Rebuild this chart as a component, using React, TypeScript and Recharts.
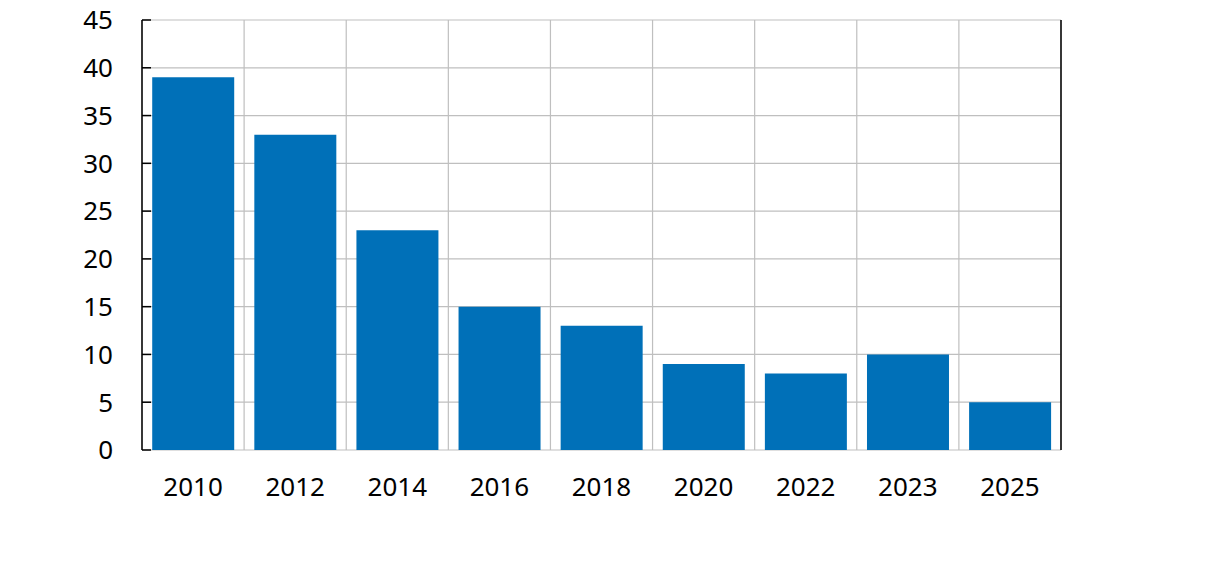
import { BarChart, Bar, XAxis, YAxis, CartesianGrid } from "recharts";

const years = ["2010", "2012", "2014", "2016", "2018", "2020", "2022", "2023", "2025"];
const values = [39, 33, 23, 15, 13, 9, 8, 10, 5];
const yTicks = [0, 5, 10, 15, 20, 25, 30, 35, 40, 45];

const data = years.map((year, i) => ({ year, value: values[i] }));

const FONT = "'Noto Sans', 'Open Sans', sans-serif";
const FONT_SIZE = 26;
const TICK_LEN = 9;
const LABEL_GAP = 29;

const LeftTick = ({ x, y, payload }: any) => {
  const axisX = x + LABEL_GAP;
  return (
    <g>
      <line x1={axisX} x2={axisX + TICK_LEN} y1={y} y2={y} stroke="#000" strokeWidth={1.5} />
      <text x={x} y={y} dy="0.36em" textAnchor="end" fill="#000" fontSize={FONT_SIZE} fontFamily={FONT}>
        {payload.value}
      </text>
    </g>
  );
};

const RightTick = ({ x, y }: any) => {
  const axisX = x - 2;
  return <line x1={axisX} x2={axisX - TICK_LEN} y1={y} y2={y} stroke="#000" strokeWidth={1.5} />;
};

// vertical gridlines sit on category boundaries, not centres
const boundaries = ({ offset }: any) =>
  Array.from({ length: years.length + 1 }, (_, i) => offset.left + (i * offset.width) / years.length);

export default function App() {
  return (
    <div style={{ width: 1214, height: 569, background: "#fff" }}>
      <BarChart
        width={1214}
        height={569}
        data={data}
        margin={{ top: 12, right: 151, left: 0, bottom: 0 }}
        barCategoryGap="10%"
        style={{ overflow: "visible" }}
      >
        <CartesianGrid
          stroke="#bfbfbf"
          strokeWidth={1.2}
          yAxisId="left"
          verticalCoordinatesGenerator={boundaries}
        />
        <XAxis
          dataKey="year"
          axisLine={false}
          tickLine={false}
          tickSize={0}
          tickMargin={28}
          height={127}
          interval={0}
          tick={{ fill: "#000", fontSize: FONT_SIZE, fontFamily: FONT }}
        />
        <YAxis
          yAxisId="left"
          domain={[0, 45]}
          ticks={yTicks}
          width={134}
          axisLine={{ stroke: "#000", strokeWidth: 1.5 }}
          tickLine={false}
          tickSize={0}
          tickMargin={LABEL_GAP}
          tick={<LeftTick />}
          interval={0}
        />
        <YAxis
          yAxisId="right"
          orientation="right"
          domain={[0, 45]}
          ticks={yTicks}
          width={10}
          axisLine={{ stroke: "#000", strokeWidth: 1.5 }}
          tickLine={false}
          tickSize={0}
          tickMargin={2}
          tick={<RightTick />}
          interval={0}
        />
        <Bar yAxisId="left" dataKey="value" fill="#0070b8" isAnimationActive={false} />
      </BarChart>
    </div>
  );
}
